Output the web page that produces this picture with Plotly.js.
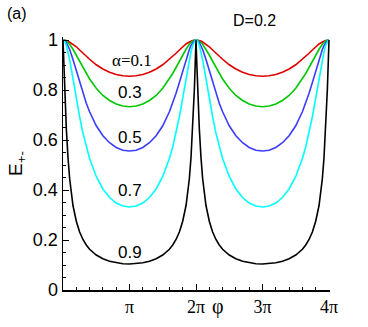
<!DOCTYPE html>
<html><head><meta charset="utf-8">
<script src="https://cdn.plot.ly/plotly-3.0.1.min.js"></script>
<style>html,body{margin:0;padding:0;background:#fff;}</style>
</head><body>
<div id="chart" style="width:368px;height:327px;"></div>
<script>
// phase phi in units of pi
const phi = [0,0.01,0.025,0.05,0.075,0.1,0.15,0.2,0.25,0.3,0.35,0.4,0.5,0.6,0.7,0.8,0.9,1,
1.1,1.2,1.3,1.4,1.5,1.6,1.65,1.7,1.75,1.8,1.85,1.9,1.925,1.95,1.975,1.99,2,
2.01,2.025,2.05,2.075,2.1,2.15,2.2,2.25,2.3,2.35,2.4,2.5,2.6,2.7,2.8,2.9,3,
3.1,3.2,3.3,3.4,3.5,3.6,3.65,3.7,3.75,3.8,3.85,3.9,3.925,3.95,3.975,3.99,4];

const E_a01 = [1,1,0.999,0.998,0.996,0.992,0.984,0.973,0.96,0.947,0.935,0.923,0.901,0.884,0.871,0.862,0.857,0.855,
0.857,0.862,0.871,0.884,0.901,0.923,0.935,0.947,0.96,0.973,0.984,0.992,0.996,0.998,0.999,1,1,
1,0.999,0.998,0.996,0.992,0.984,0.973,0.96,0.947,0.935,0.923,0.901,0.884,0.871,0.862,0.857,0.855,
0.857,0.862,0.871,0.884,0.901,0.923,0.935,0.947,0.96,0.973,0.984,0.992,0.996,0.998,0.999,1,1];

const E_a03 = [1,1,0.999,0.995,0.99,0.983,0.963,0.94,0.915,0.89,0.866,0.844,0.807,0.778,0.758,0.744,0.736,0.733,
0.736,0.744,0.758,0.778,0.807,0.844,0.866,0.89,0.915,0.94,0.963,0.983,0.99,0.995,0.999,1,1,
1,0.999,0.995,0.99,0.983,0.963,0.94,0.915,0.89,0.866,0.844,0.807,0.778,0.758,0.744,0.736,0.733,
0.736,0.744,0.758,0.778,0.807,0.844,0.866,0.89,0.915,0.94,0.963,0.983,0.99,0.995,0.999,1,1];

const E_a05 = [1,1,0.997,0.99,0.978,0.962,0.922,0.876,0.83,0.787,0.747,0.713,0.657,0.617,0.589,0.57,0.559,0.556,
0.559,0.57,0.589,0.617,0.657,0.713,0.747,0.787,0.83,0.876,0.922,0.962,0.978,0.99,0.997,1,1,
1,0.997,0.99,0.978,0.962,0.922,0.876,0.83,0.787,0.747,0.713,0.657,0.617,0.589,0.57,0.559,0.556,
0.559,0.57,0.589,0.617,0.657,0.713,0.747,0.787,0.83,0.876,0.922,0.962,0.978,0.99,0.997,1,1];

const E_a07 = [1,0.999,0.995,0.978,0.953,0.921,0.846,0.767,0.693,0.628,0.572,0.526,0.454,0.404,0.37,0.348,0.336,0.332,
0.336,0.348,0.37,0.404,0.454,0.526,0.572,0.628,0.693,0.767,0.846,0.921,0.953,0.978,0.995,0.999,1,
0.999,0.995,0.978,0.953,0.921,0.846,0.767,0.693,0.628,0.572,0.526,0.454,0.404,0.37,0.348,0.336,0.332,
0.336,0.348,0.37,0.404,0.454,0.526,0.572,0.628,0.693,0.767,0.846,0.921,0.953,0.978,0.995,0.999,1];

const E_a09 = [1,0.92,0.8,0.645,0.53,0.445,0.338,0.275,0.232,0.202,0.18,0.163,0.14,0.125,0.115,0.109,0.105,0.104,
0.105,0.109,0.115,0.125,0.14,0.163,0.18,0.202,0.232,0.275,0.338,0.445,0.53,0.645,0.8,0.92,1,
0.92,0.8,0.645,0.53,0.445,0.338,0.275,0.232,0.202,0.18,0.163,0.14,0.125,0.115,0.109,0.105,0.104,
0.105,0.109,0.115,0.125,0.14,0.163,0.18,0.202,0.232,0.275,0.338,0.445,0.53,0.645,0.8,0.92,1];

const seriesNames = ['α=0.1','0.3','0.5','0.7','0.9'];
const seriesValues = [E_a01, E_a03, E_a05, E_a07, E_a09];
const seriesColors = ['#e00000','#00c800','#3c3cff','#00ffff','#000000'];

const xTickVals = [1,2,3,4];
const xTickText = ['π','2π','3π','4π'];

// layout geometry (pixels)
const W = 368, H = 327, ML = 63, MR = 38, MT = 37, MB = 37;
const PW = W - ML - MR, PH = H - MT - MB;
const px2x = p => (p - ML) / PW;
const py2y = p => (H - MB - p) / PH;

const traces = seriesValues.map((v, i) => ({
  x: phi, y: v, type: 'scatter', mode: 'lines', name: seriesNames[i],
  line: {color: seriesColors[i], width: 1.6, shape: 'linear'},
  hoverinfo: 'skip'
}));

const sans = 'Liberation Sans, Arial, Helvetica, sans-serif';
const serif = 'Liberation Serif, Times New Roman, serif';

// in-plot curve labels (data coordinates)
const labelPos = [[1.03, 0.92], [1.012, 0.791], [1.008, 0.61], [1.008, 0.397], [1.008, 0.151]];
const annotations = seriesNames.map((t, i) => ({
  x: labelPos[i][0], y: labelPos[i][1], xref: 'x', yref: 'y', text: t, showarrow: false,
  xanchor: 'center', yanchor: 'middle',
  font: {family: i === 0 ? serif : sans, size: 17, color: '#000'}
}));

annotations.push(
  {x: px2x(17), y: py2y(13), xref: 'paper', yref: 'paper', text: '(a)', showarrow: false,
   xanchor: 'center', yanchor: 'middle', font: {family: sans, size: 16, color: '#000'}},
  {x: px2x(254), y: py2y(21), xref: 'paper', yref: 'paper', text: 'D=0.2', showarrow: false,
   xanchor: 'center', yanchor: 'middle', font: {family: sans, size: 16, color: '#000'}},
  {x: px2x(218), y: py2y(306), xref: 'paper', yref: 'paper', text: 'φ', showarrow: false,
   xanchor: 'center', yanchor: 'middle', font: {family: serif, size: 20, color: '#000'}},
  {x: px2x(17), y: py2y(164), xref: 'paper', yref: 'paper', text: 'E<sub>+-</sub>', showarrow: false,
   textangle: -90, xanchor: 'center', yanchor: 'middle', font: {family: sans, size: 19, color: '#000'}}
);

const layout = {
  width: W, height: H,
  margin: {l: ML, r: MR, t: MT, b: MB, pad: 0},
  paper_bgcolor: '#fff', plot_bgcolor: '#fff',
  showlegend: false,
  xaxis: {
    range: [0, 4 * PW / 266], tickmode: 'array', tickvals: xTickVals, ticktext: xTickText,
    ticks: 'inside', ticklen: 6, tickwidth: 1, tickcolor: '#000',
    showline: true, linecolor: '#000', linewidth: 1.5, showgrid: false, zeroline: false,
    tickfont: {family: serif, size: 18, color: '#000'},
    minor: {tickmode: 'linear', tick0: 0, dtick: 0.2, ticks: 'inside', ticklen: 3, tickwidth: 1, tickcolor: '#000', showgrid: false}
  },
  yaxis: {
    range: [0, 1.012], tickmode: 'linear', tick0: 0, dtick: 0.2,
    ticks: 'inside', ticklen: 6, tickwidth: 1, tickcolor: '#000',
    showline: true, linecolor: '#000', linewidth: 1.5, showgrid: false, zeroline: false,
    tickfont: {family: sans, size: 18, color: '#000'},
    minor: {tickmode: 'linear', tick0: 0, dtick: 0.05, ticks: 'inside', ticklen: 3, tickwidth: 1, tickcolor: '#000', showgrid: false}
  },
  annotations: annotations
};

Plotly.newPlot('chart', traces, layout, {staticPlot: true, displayModeBar: false});
</script>
</body></html>
